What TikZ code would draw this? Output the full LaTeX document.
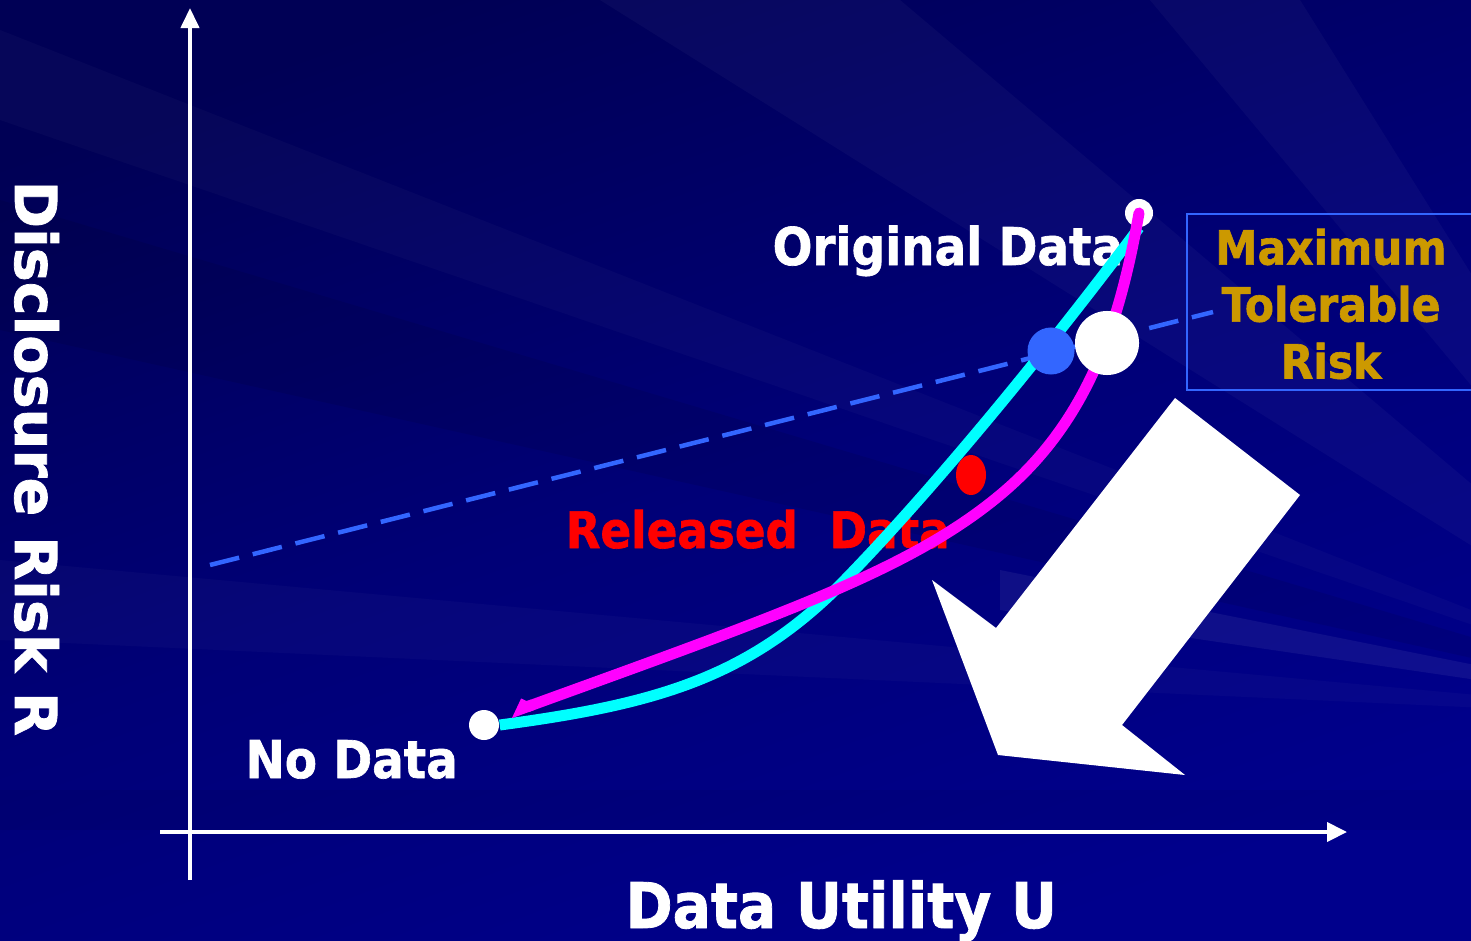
\documentclass[tikz,border=0pt]{standalone}
\usepackage{fontspec}
\setmainfont{DejaVu Sans}[BoldFeatures={FakeBold=1.3}]
\usetikzlibrary{arrows.meta,positioning,shapes.geometric}
\definecolor{slidebg}{RGB}{0,0,140}
\definecolor{slidedark}{RGB}{0,0,85}
\definecolor{riskblue}{RGB}{51,102,255}
\definecolor{tolgold}{RGB}{204,153,0}
\definecolor{curvecyan}{RGB}{0,255,255}
\definecolor{curvemag}{RGB}{255,0,255}
\definecolor{relred}{RGB}{255,0,0}

\begin{document}
\begin{tikzpicture}[x=0.01cm,y=-0.01cm,
  dot/.style={fill=white,circle,inner sep=0pt},
  lbl/.style={text=white,font=\bfseries\fontsize{14.8}{17}\selectfont,inner sep=0pt,xscale=0.9,anchor=base west},
  curve/.style={line width=0.11cm,line cap=round},
  axis/.style={white,line width=0.04cm}]
  \useasboundingbox (0,0) rectangle (1471,940);
  % slide background
  \shade[top color=slidedark,bottom color=slidebg,middle color=slidebg!85!black,shading angle=20] (0,0) rectangle (1471,940);
  \fill[white,opacity=0.025] (1750,720) -- (0,30) -- (0,120) -- cycle;
  \fill[white,opacity=0.03] (1750,720) -- (600,0) -- (900,0) -- cycle;
  \fill[white,opacity=0.03] (1750,720) -- (1150,0) -- (1300,0) -- cycle;
  \fill[black,opacity=0.08] (1750,720) -- (0,200) -- (0,330) -- cycle;
  \fill[white,opacity=0.025] (1750,720) -- (0,560) -- (0,640) -- cycle;
  \fill[white,opacity=0.06] (1750,720) -- (1000,570) -- (1000,610) -- cycle;
  \fill[black,opacity=0.06] (0,790) rectangle (1471,830);

  % axes
  \coordinate (yfoot) at (190,880);
  \coordinate (ytip) at (190,8);
  \coordinate (xfoot) at (160,832);
  \coordinate (xtip) at (1347,832);
  \draw[axis,-{Triangle[length=0.2cm,width=0.18cm]}] (yfoot) -- (ytip);
  \draw[axis,-{Triangle[length=0.2cm,width=0.19cm]}] (xfoot) -- (xtip);
  \node[lbl,font=\bfseries\fontsize{18.3}{20}\selectfont,rotate=-90,xscale=0.8/0.9] (riskR) at (15,180) {Disclosure Risk R};
  \node[lbl,font=\bfseries\fontsize{17.9}{20}\selectfont] (utilU) at (625,928) {Data Utility U};

  % tolerable risk
  \coordinate (tolL) at (210,565);
  \coordinate (tolR) at (1213,312);
  \draw[riskblue,line width=0.045cm,dash pattern=on 0.3cm off 0.14cm] (tolL) -- (tolR);
  \draw[riskblue,line width=0.02cm] (1187,214) rectangle (1490,390);
  \node[text=tolgold,font=\bfseries\fontsize{13.4}{16.2}\selectfont,align=center,inner sep=0pt,xscale=0.9] (maxrisk) at (1331,304) {Maximum\\Tolerable\\Risk};

  % labels
  \node[lbl] (origtxt) at (772,265) {Original Data};
  \node[lbl] (notxt) at (245,778) {No Data};
  \node[lbl,text=relred,font=\bfseries\fontsize{14.3}{17}\selectfont] (reltxt) at (565,548) {Released\ \ Data};

  % points
  \node[dot,minimum size=0.28cm] (orig) at (1139,213) {};
  \node[dot,minimum size=0.3cm] (nodata) at (484,725) {};
  \node[fill=relred,ellipse,inner sep=0pt,minimum width=0.3cm,minimum height=0.4cm] (rel) at (971,475) {};
  \coordinate (mid) at (830,595);
  \coordinate (bend) at (1000,495);
  \coordinate (magend) at (510,713);

  % curves
  \draw[curve,curvecyan,line cap=butt] (nodata.east) .. controls (650,705) and (740,680) .. (mid)
    .. controls (920,505) and (1040,360) .. (orig.south);
  \draw[curve,curvemag,-{Straight Barb[right,length=0.06cm,width=0.12cm]}] (orig.center) .. controls (1120,320) and (1090,420) .. (bend)
    .. controls (910,570) and (780,615) .. (magend);

  \node[fill=riskblue,circle,inner sep=0pt,minimum size=0.47cm] (meet) at (1051,351) {};
  \node[dot,minimum size=0.64cm] (tol) at (1107,343) {};

  % direction arrow
  \fill[white] (1175,398) -- (1300,495) -- (1122,725) -- (1185,775) -- (998,755) -- (932,580) -- (996,628) -- cycle;
\end{tikzpicture}
\end{document}
